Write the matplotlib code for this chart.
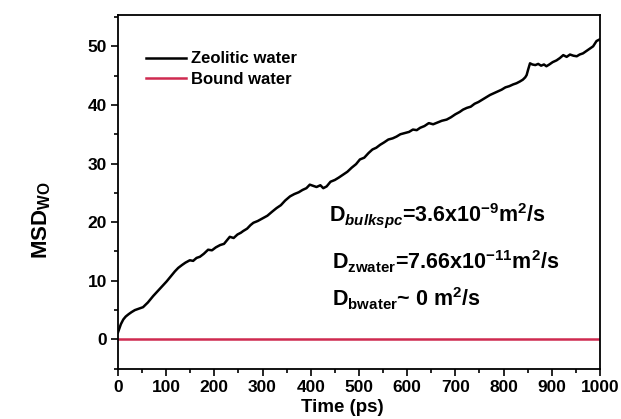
import matplotlib
matplotlib.use("Agg")
import matplotlib.pyplot as plt
from matplotlib.ticker import MultipleLocator

plt.rcParams['font.family'] = ['Liberation Sans', 'DejaVu Sans']
plt.rcParams['font.weight'] = 'bold'
plt.rcParams['mathtext.fontset'] = 'custom'
plt.rcParams['mathtext.rm'] = 'Liberation Sans:bold'
plt.rcParams['mathtext.it'] = 'Liberation Sans:bold:italic'
plt.rcParams['mathtext.bf'] = 'Liberation Sans:bold'

# Zeolitic water MSD
zeo_t = [0, 3, 6, 11, 16, 22, 28, 35, 42, 52, 62, 73, 82, 92, 101, 110, 118, 125,
         133, 140, 149, 156, 163, 170, 178, 187, 195, 203, 212, 220, 226, 232, 240,
         248, 255, 260, 268, 275, 281, 290, 301, 310, 320, 329, 338, 347, 357, 366,
         375, 383, 391, 398, 405, 412, 420, 426, 433, 441, 450, 458, 467, 476, 485,
         494, 502, 511, 520, 528, 536, 544, 552, 561, 570, 578, 586, 595, 604, 612,
         620, 627, 636, 645, 654, 663, 672, 682, 691, 700, 709, 716, 724, 732, 740,
         748, 756, 764, 772, 780, 788, 796, 804, 812, 820, 827, 834, 840, 845, 848,
         851, 855, 860, 866, 872, 878, 884, 889, 895, 902, 910, 917, 924, 931, 938,
         945, 952, 958, 965, 972, 979, 986, 993, 1000]
zeo_v = [1.2, 1.9, 2.6, 3.4, 3.9, 4.3, 4.65, 5.0, 5.2, 5.5, 6.3, 7.4, 8.2, 9.1, 9.9,
         10.8, 11.6, 12.2, 12.7, 13.1, 13.5, 13.4, 13.9, 14.1, 14.6, 15.3, 15.2, 15.7,
         16.1, 16.3, 16.9, 17.5, 17.3, 17.9, 18.2, 18.5, 18.9, 19.5, 19.9, 20.2, 20.7,
         21.1, 21.8, 22.4, 22.9, 23.7, 24.4, 24.8, 25.1, 25.5, 25.8, 26.4, 26.2, 26.0,
         26.3, 25.8, 26.1, 26.9, 27.2, 27.6, 28.1, 28.6, 29.3, 29.9, 30.7, 31.0, 31.8,
         32.4, 32.7, 33.2, 33.6, 34.1, 34.3, 34.6, 35.0, 35.2, 35.4, 35.8, 35.7, 36.1,
         36.4, 36.9, 36.7, 37.0, 37.3, 37.5, 37.9, 38.4, 38.8, 39.2, 39.5, 39.7, 40.2,
         40.5, 40.9, 41.3, 41.7, 42.0, 42.3, 42.6, 43.0, 43.2, 43.5, 43.7, 44.0, 44.3,
         44.7, 45.1, 46.0, 47.1, 46.9, 46.8, 47.0, 46.7, 46.9, 46.6, 46.9, 47.3, 47.6,
         48.0, 48.5, 48.2, 48.6, 48.4, 48.3, 48.6, 48.8, 49.2, 49.6, 50.0, 50.9, 51.2]

# Bound water MSD
bnd_t = [0, 250, 500, 750, 1000]
bnd_v = [0.0, 0.0, 0.0, 0.0, 0.0]

fig = plt.figure(figsize=(6.21, 4.19), dpi=100)
ax = fig.add_axes([0.190, 0.120, 0.776, 0.845])

ax.plot(zeo_t, zeo_v, color='black', lw=1.8, label='Zeolitic water')
ax.plot(bnd_t, bnd_v, color='#cf2a50', lw=1.8, label='Bound water')

ax.set_xlim(0, 1000)
ax.set_ylim(-5, 55.4)
ax.xaxis.set_major_locator(MultipleLocator(100))
ax.xaxis.set_minor_locator(MultipleLocator(50))
ax.yaxis.set_major_locator(MultipleLocator(10))
ax.yaxis.set_minor_locator(MultipleLocator(5))
ax.tick_params(which='both', direction='out', top=False, right=False, width=1.2)
ax.tick_params(which='major', length=5, labelsize=12.5, pad=3)
ax.tick_params(which='minor', length=3)
for s in ax.spines.values():
    s.set_linewidth(1.3)
for lbl in ax.get_xticklabels() + ax.get_yticklabels():
    lbl.set_fontweight('bold')

ax.set_xlabel('Time (ps)', fontsize=13.5, fontweight='bold')
ax.xaxis.set_label_coords(0.465, -0.085)
ax.set_ylabel(r'$\mathrm{MSD_{WO}}$', fontsize=16)
ax.yaxis.set_label_coords(-0.135, 0.42)

leg = ax.legend(loc='upper left', bbox_to_anchor=(0.045, 0.915), frameon=False,
                fontsize=12, handlelength=2.4, handletextpad=0.3, labelspacing=0.35,
                borderaxespad=0)

ax.text(438, 20.1, r'$\mathrm{D}_{\mathit{bulkspc}}$=3.6x10$^{\mathrm{-9}}$m$^{2}$/s',
        fontsize=15.5, va='baseline')
ax.text(444, 11.9, r'$\mathrm{D_{zwater}}$=7.66x10$^{\mathrm{-11}}$m$^{2}$/s',
        fontsize=15.5, va='baseline')
ax.text(444, 5.6, r'$\mathrm{D_{bwater}}$~ 0 m$^{2}$/s',
        fontsize=15.5, va='baseline')

fig.savefig('out.png', dpi=100)
